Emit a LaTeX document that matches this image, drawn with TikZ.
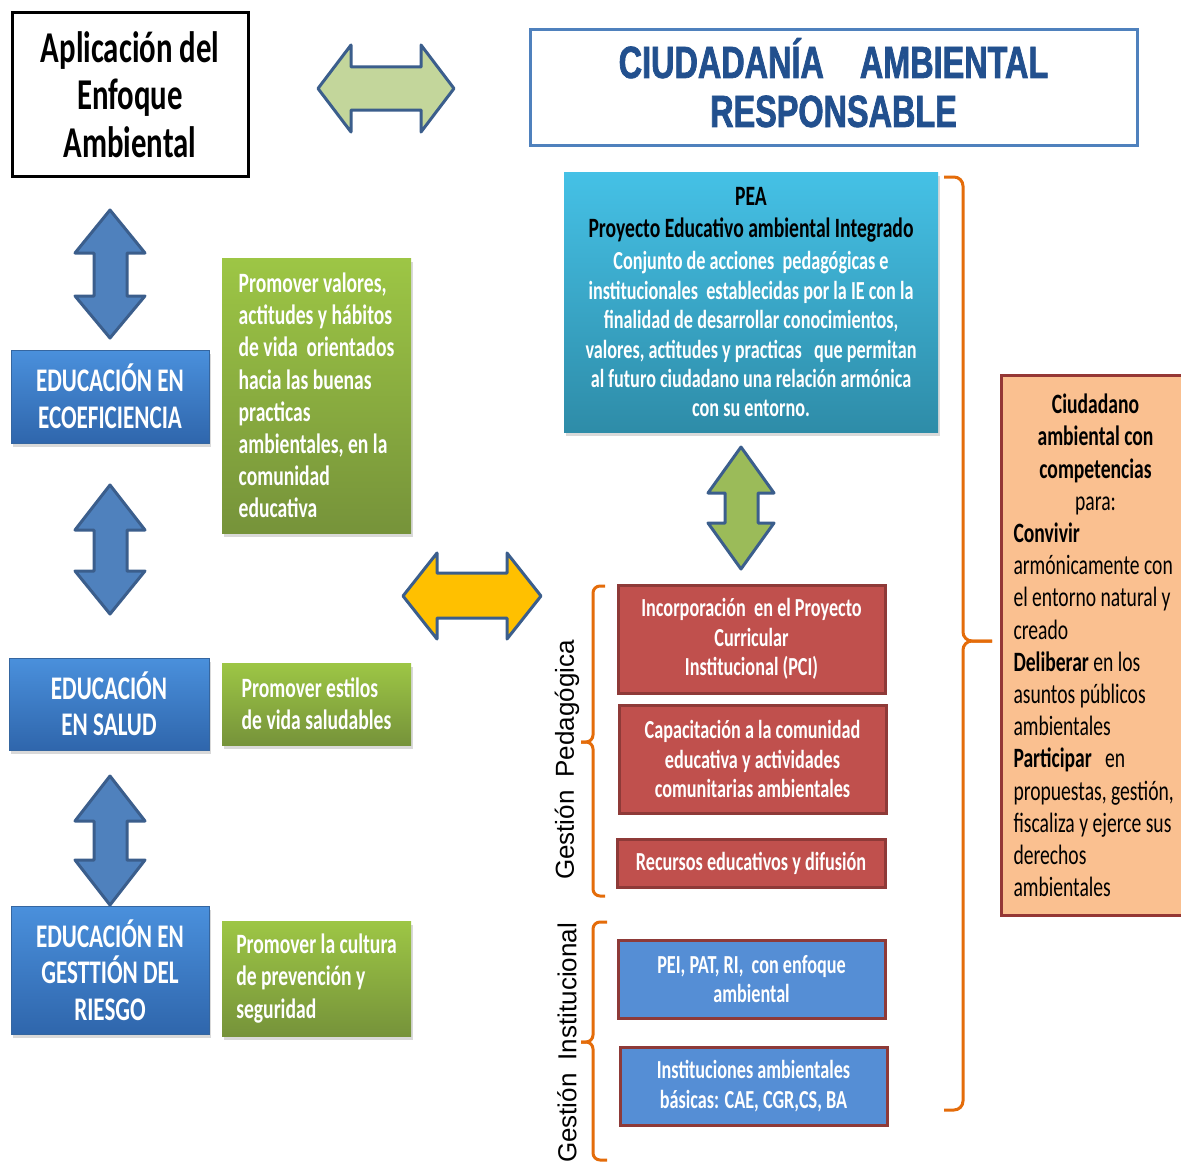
\documentclass[tikz,border=0pt]{standalone}
\usepackage{fontspec}
\setmainfont{Carlito}[FakeStretch=0.7]
\newfontfamily\titlefont{Liberation Sans}[FakeStretch=0.72,FakeBold=1.6]
\newfontfamily\rotfont{Liberation Sans}
\usetikzlibrary{shadows}
\definecolor{arrowline}{HTML}{3B5E8C}
\definecolor{palegreen}{HTML}{C3D69B}
\definecolor{midgreen}{HTML}{9BBB59}
\definecolor{steel}{HTML}{4F81BD}
\definecolor{gold}{HTML}{FFC000}
\definecolor{bracecol}{HTML}{E46C0A}
\definecolor{titleblue}{HTML}{4F81BD}
\definecolor{titletext}{HTML}{22508E}
\definecolor{boxtop}{HTML}{4A90DC}
\definecolor{boxbot}{HTML}{2F66AC}
\definecolor{boxline}{HTML}{3566A0}
\definecolor{greentop}{HTML}{9DC645}
\definecolor{greenbot}{HTML}{76933A}
\definecolor{peatop}{HTML}{45C1E6}
\definecolor{peabot}{HTML}{2E8CA8}
\definecolor{redfill}{HTML}{C0504D}
\definecolor{redline}{HTML}{8E3A38}
\definecolor{medblue}{HTML}{558ED5}
\definecolor{peach}{HTML}{FAC090}
\definecolor{peachline}{HTML}{953735}
\newcommand{\midline}[1]{\makebox[164pt][c]{#1}}
\begin{document}
\begin{tikzpicture}[x=1pt,y=-1pt,
  bigarrow/.style={draw=arrowline, line width=3pt, line join=round},
  shade/.style={drop shadow={opacity=0.3, shadow xshift=2pt, shadow yshift=-4pt}},
  leftbox/.style={shade, draw=boxline, line width=1pt, top color=boxtop, bottom color=boxbot, text=white, align=center, inner sep=0pt, font=\bfseries\fontsize{33}{36.5}\selectfont},
  greenbox/.style={shade, top color=greentop, bottom color=greenbot, text=white, align=left, inner sep=0pt, font=\bfseries\fontsize{28}{32.2}\selectfont},
  redbox/.style={draw=redline, line width=3pt, fill=redfill, text=white, align=center, inner sep=0pt, font=\bfseries\fontsize{26}{29.5}\selectfont},
  instbox/.style={redbox, fill=medblue},
  bracket/.style={draw=bracecol, line width=3pt, rounded corners=7pt},
  sidelabel/.style={rotate=90, font=\rotfont\fontsize{26}{30}\selectfont, inner sep=0pt},
]
\useasboundingbox (0,0) rectangle (1181,1164);

% top row
\node[draw=black, line width=3pt, minimum width=236pt, minimum height=163pt, align=center, inner sep=0pt,
  font=\bfseries\fontsize{44}{47.5}\selectfont] (apl) at (130,94.5) {Aplicación del\\Enfoque\\Ambiental};
\node[draw=titleblue, line width=3pt, fill=white, minimum width=607pt, minimum height=115pt, align=center, inner sep=0pt,
  text=titletext, font=\titlefont\bfseries\fontsize{45}{49}\selectfont] (title) at (833.5,87.5) {CIUDADANÍA\hspace{36pt}AMBIENTAL\\RESPONSABLE\rule[-10pt]{0pt}{0pt}};
\path[bigarrow, fill=palegreen] (318,88.5) -- (351,45) -- (351,67) -- (421,67) -- (421,45) -- (454,88.5) -- (421,132) -- (421,110) -- (351,110) -- (351,132) -- cycle;

% left column arrows
\foreach \t/\a/\b/\bt in {210/253/296/338, 485/530/571/614, 776/821/860/905}
  \path[bigarrow, fill=steel] (110,\t) -- (145,\a) -- (127,\a) -- (127,\b) -- (145,\b) -- (110,\bt) -- (75,\b) -- (94,\b) -- (94,\a) -- (75,\a) -- cycle;

% left boxes
\node[leftbox, minimum width=198pt, minimum height=93pt] (eco) at (110,396.5) {EDUCACIÓN EN\\ECOEFICIENCIA};
\node[leftbox, minimum width=200pt, minimum height=92pt] (salud) at (109,704) {EDUCACIÓN\\EN SALUD};
\node[leftbox, minimum width=198pt, minimum height=128pt] (riesgo) at (110,970) {EDUCACIÓN EN\\GESTTIÓN DEL\\RIESGO};

% green boxes
\node[greenbox, minimum width=189pt, minimum height=275pt] (g1) at (316.5,395.5) {Promover valores,\\actitudes y hábitos\\de vida\ \ orientados\\hacia las buenas\\practicas\\ambientales, en la\\comunidad\\educativa};
\node[greenbox, minimum width=189pt, minimum height=82pt] (g2) at (316.5,704) {Promover estilos\\de vida saludables};
\node[greenbox, minimum width=189pt, minimum height=115pt] (g3) at (316.5,978.5) {Promover la cultura\\de prevención y\\seguridad};

% yellow arrow
\path[bigarrow, fill=gold] (403,596) -- (437,553) -- (437,573) -- (507,573) -- (507,553) -- (541,596) -- (507,639) -- (507,618) -- (437,618) -- (437,639) -- cycle;

% PEA
\node[shade, top color=peatop, bottom color=peabot, minimum width=374pt, minimum height=260pt, align=center, inner sep=0pt,
  text=white, font=\bfseries\fontsize{26}{29.4}\selectfont] (pea) at (751,302)
  {\textcolor{black}{\fontsize{28}{33}\selectfont PEA}\\[3.5pt]\textcolor{black}{\fontsize{28}{33}\selectfont Proyecto Educativo ambiental Integrado}\\[2.5pt]Conjunto de acciones\ \ pedagógicas e\\institucionales\ \ establecidas por la IE con la\\finalidad de desarrollar conocimientos,\\valores, actitudes y practicas\ \ \ que permitan\\al futuro ciudadano una relación armónica\\con su entorno.};

% green vertical arrow
\path[bigarrow, fill=midgreen] (741,447) -- (774,493) -- (758,493) -- (758,523) -- (774,523) -- (741,569) -- (708,523) -- (725,523) -- (725,493) -- (708,493) -- cycle;

% red and blue boxes
\node[redbox, minimum width=267pt, minimum height=108pt] (pci) at (751.5,639) {Incorporación\ \ en el Proyecto\\Curricular\\Institucional (PCI)};
\node[redbox, minimum width=267pt, minimum height=108pt] (cap) at (752.5,759) {Capacitación a la comunidad\\educativa y actividades\\comunitarias ambientales};
\node[redbox, minimum width=268pt, minimum height=48pt] (rec) at (751,863) {Recursos educativos y difusión};
\node[instbox, minimum width=267pt, minimum height=78pt] (pei) at (751.5,979) {PEI, PAT, RI,\ \ con enfoque\\ambiental};
\node[instbox, minimum width=267pt, minimum height=78pt] (inst) at (753.5,1086) {Instituciones ambientales\\básicas: CAE, CGR,CS, BA};

% side labels and brackets
\node[sidelabel] (gped) at (567,760) {Gestión\hspace{0.5em}Pedagógica};
\node[sidelabel] (ginst) at (567,1043) {Gestión\hspace{0.5em}Institucional};
\draw[bracket] (605,586) -- (593,586) -- (593,742) -- (581,742);
\draw[bracket] (605,896) -- (593,896) -- (593,742) -- (581,742);
\draw[bracket] (607,922) -- (593,922) -- (593,1042) -- (581,1042);
\draw[bracket] (607,1160) -- (593,1160) -- (593,1042) -- (581,1042);
\draw[bracket, rounded corners=9pt] (944,177) -- (963,177) -- (963,641) -- (992,641);
\draw[bracket, rounded corners=9pt] (944,1110) -- (963,1110) -- (963,641) -- (992,641);

% citizen box
\node[draw=peachline, line width=3pt, fill=peach, anchor=north west, minimum width=214pt, minimum height=540pt,
  text width=190pt, inner xsep=12pt, inner ysep=0pt, align=flush left, font=\fontsize{28}{32.2}\selectfont] (ciud) at (1000,374)
  {\midline{\textbf{Ciudadano}}\\\midline{\textbf{ambiental con}}\\\midline{\textbf{competencias}}\\\midline{para:}\\
   \textbf{Convivir}\\armónicamente con\\el entorno natural y\\creado\\\textbf{Deliberar} en los\\asuntos públicos\\ambientales\\\textbf{Participar}\ \ \ en\\propuestas, gestión,\\fiscaliza y ejerce sus\\derechos\\ambientales\par\vspace{28pt}};
\end{tikzpicture}
\end{document}
